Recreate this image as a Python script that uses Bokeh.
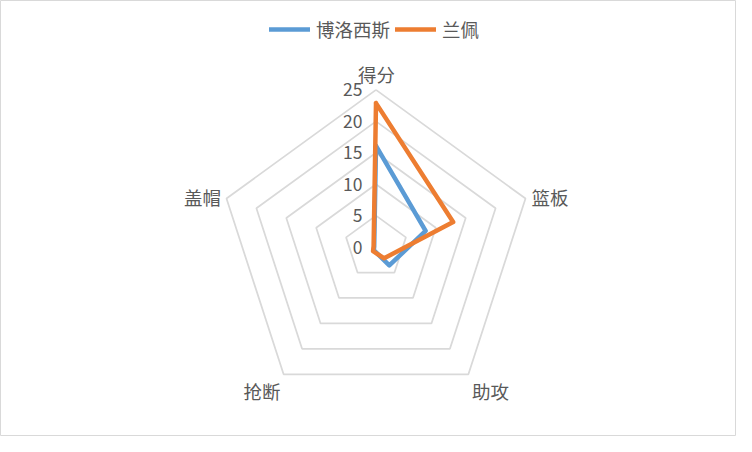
import numpy as np
from bokeh.plotting import figure
from bokeh.models import Range1d, Legend, LegendItem
from bokeh.core.properties import value
from bokeh.embed import file_html
from bokeh.resources import INLINE

# ---- data ----
categories = ["得分", "篮板", "助攻", "抢断", "盖帽"]
series_names = ["博洛西斯", "兰佩"]
bogdanovic = [16.1, 8.3, 3.6, 0.6, 0.3]
lanpei = [22.9, 12.9, 2.2, 0.8, 0.4]
tick_values = [0, 5, 10, 15, 20, 25]
tick_labels = ["0", "5", "10", "15", "20", "25"]
r_max = 25

# ---- layout / style ----
W, H = 736, 436
CX, CY = 375.5, 246.6        # radar centre in figure pixels (from top-left)
RPX = 157.2                  # pixel radius of the outer ring
s = RPX / r_max              # pixels per data unit
FONT = "Noto Sans CJK SC"
TXT = "#595959"
BLUE = "#5B9BD5"
ORANGE = "#ED7D31"
RING = "#D9D9D9"
# label centre offsets from radar centre in pixels (dx right, dy down)
label_offsets = [(0.5, -173.0), (174.0, -50.6), (114.5, 143.4), (-114.0, 143.4), (-173.5, -50.1)]

n = len(categories)
angles = np.pi / 2 - 2 * np.pi * np.arange(n) / n


def polygon(vals):
    v = np.asarray(vals, dtype=float)
    xs = v * np.cos(angles)
    ys = v * np.sin(angles)
    return list(xs) + [xs[0]], list(ys) + [ys[0]]


p = figure(width=W, height=H, output_backend="svg", toolbar_location=None,
           x_range=Range1d(-CX / s, (W - CX) / s),
           y_range=Range1d(-(H - CY) / s, CY / s),
           x_axis_location=None, y_axis_location=None, min_border=0)
p.xgrid.grid_line_color = None
p.ygrid.grid_line_color = None
p.outline_line_color = RING
p.outline_line_width = 1
p.background_fill_color = "white"
p.border_fill_color = "white"

# rings
ring_xs, ring_ys = [], []
for t in tick_values[1:]:
    xs, ys = polygon([t] * n)
    ring_xs.append(xs)
    ring_ys.append(ys)
p.multi_line(ring_xs, ring_ys, line_color=RING, line_width=1.75)

# series
bx, by = polygon(bogdanovic)
ox, oy = polygon(lanpei)
r1 = p.line(bx, by, line_color=BLUE, line_width=4.5, line_join="round", line_cap="round")
r2 = p.line(ox, oy, line_color=ORANGE, line_width=4.5, line_join="round", line_cap="round")

# tick labels
p.text(x=[-13.5 / s] * len(tick_values), y=tick_values, text=tick_labels,
       text_font=value(FONT), text_font_size="17.5px", text_color=TXT,
       text_align="right", text_baseline="middle")

# category labels
lx = [dx / s for dx, dy in label_offsets]
ly = [-dy / s for dx, dy in label_offsets]
p.text(x=lx, y=ly, text=categories, text_font=value(FONT), text_font_size="18.5px",
       text_color=TXT, text_align="center", text_baseline="middle")

legend = Legend(items=[LegendItem(label=series_names[0], renderers=[r1]),
                       LegendItem(label=series_names[1], renderers=[r2])],
                orientation="horizontal", location=(269, 394),
                label_text_font=FONT, label_text_font_size="18.5px", label_text_color=TXT,
                glyph_width=41, glyph_height=22, label_height=22, label_standoff=6,
                spacing=5, padding=0, margin=0,
                border_line_alpha=0, background_fill_alpha=0)
p.add_layout(legend)

open("out.html", "w").write(file_html(p, INLINE))
